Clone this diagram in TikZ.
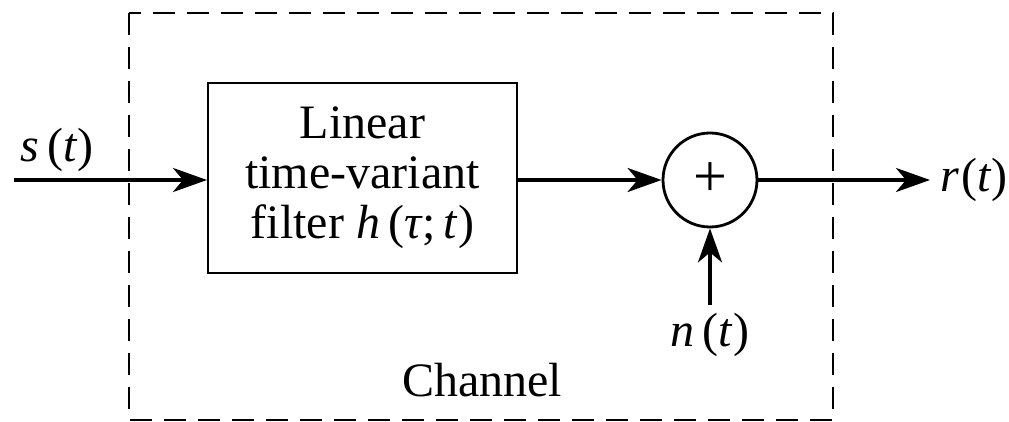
\documentclass[tikz,border=0pt]{standalone}
\usepackage{fontspec}
\setmainfont{Liberation Serif}
\usetikzlibrary{arrows.meta, positioning}

\begin{document}
\begin{tikzpicture}[
      x=0.5pt, y=-0.5pt,
      node distance=4pt and 5pt,
      every node/.style={font=\fontsize{24}{25}\selectfont, inner sep=0pt},
      block/.style={draw, line width=1pt, minimum width=154.5pt, minimum height=95pt, align=center},
      summer/.style={draw, circle, line width=1.4pt, minimum size=47pt},
      arrow/.style={-{Stealth[length=17pt, width=12pt, inset=5pt]}, line width=2pt},
      chanbox/.style={draw, line width=1.3pt, dash pattern=on 11pt off 6pt}
    ]
      \useasboundingbox (0,0) rectangle (1009,422);

      % Channel frame
      \draw[chanbox] (129,13) rectangle (833,420);
      \node (chan) at (482,380) {Channel};

      % Filter and adder
      \node (filter) [block] at (362.5,178) {%
        Linear\\
        time-variant\\
        filter \textit{h}\,(\textit{τ};\,\textit{t})%
      };
      \node (sum) [summer] at (710,180) {\fontsize{30}{30}\selectfont\addfontfeature{FakeStretch=1}+};

      % End points
      \coordinate (in) at (14,180);
      \coordinate (out) at (930,180);
      \coordinate (noise) at (710,305);

      % Labels
      \node (sig) at (57,150) {\textit{s}\,(\textit{t})};
      \node (rcv) [right=of out, anchor=west] {\textit{r}\hspace{1pt}(\textit{t})};
      \node (nse) [below=of noise] {\textit{n}\,(\textit{t})};

      % Connectors
      \draw[arrow] (in) -- (filter.west |- in);
      \draw[arrow] (filter.east |- sum) -- (sum.west);
      \draw[arrow] (sum.east) -- (out);
      \draw[arrow] (noise) -- (sum.south);
    \end{tikzpicture}
\end{document}
